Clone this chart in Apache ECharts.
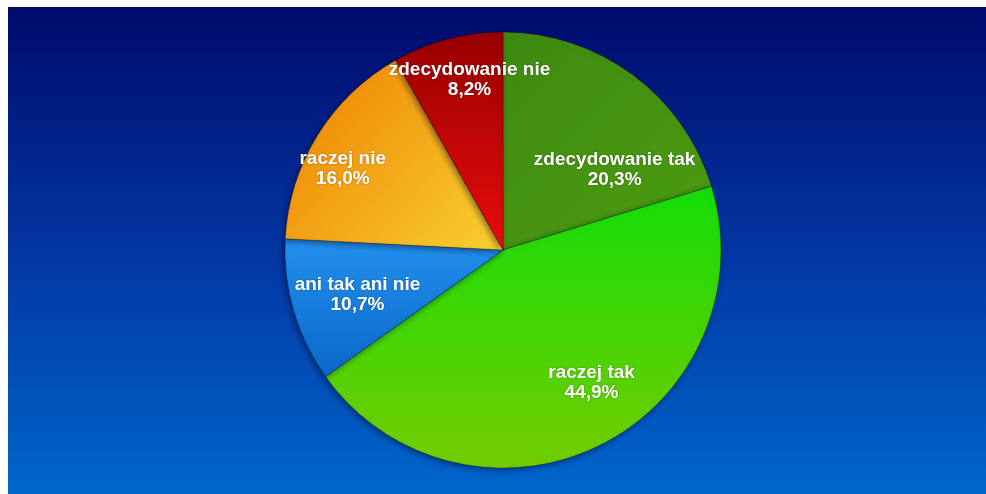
<!DOCTYPE html>
<html>
<head>
<meta charset="utf-8">
<script src="https://cdn.jsdelivr.net/npm/echarts@6/dist/echarts.min.js"></script>
<style>
  html, body { margin: 0; padding: 0; background: #fff; }
  #chart { width: 986px; height: 494px; }
</style>
</head>
<body>
<div id="chart"></div>
<script>
// answers, clockwise from 12 o'clock
const categories = ['zdecydowanie tak', 'raczej tak', 'ani tak ani nie', 'raczej nie', 'zdecydowanie nie'];
const percents = [20.3, 44.9, 10.7, 16.0, 8.2];

// slice fills (top colour, bottom colour, gradient direction)
const sliceColors = [
  ['#3e8a12', '#4d9c10', [0, 0, 1, 1]],
  ['#14de08', '#74cc00', [0, 0, 0, 1]],
  ['#2290ee', '#0a68c8', [0, 0, 0, 1]],
  ['#ee7e00', '#f8d030', [0, 0, 1, 1]],
  ['#960000', '#ec0c0c', [0, 0, 0, 1]]
];
// nudges of the inside labels away from the slice middle
const labelOffsets = [[45, 10], [39, 32], [-38, 13], [-65, -22], [-5, -62]];

const chart = echarts.init(document.getElementById('chart'));

const grad = (c) => new echarts.graphic.LinearGradient(c[2][0], c[2][1], c[2][2], c[2][3], [
  {offset: 0, color: c[0]},
  {offset: 1, color: c[1]}
]);

const option = {
  backgroundColor: '#ffffff',
  animation: false,
  graphic: [{
    type: 'rect',
    left: 8, top: 7,
    shape: {width: 978, height: 487},
    style: {
      fill: new echarts.graphic.LinearGradient(0, 0, 0, 1, [
        {offset: 0, color: '#000a6c'},
        {offset: 0.5, color: '#0336a2'},
        {offset: 1, color: '#0066cc'}
      ])
    },
    z: -10
  }],
  series: [{
    type: 'pie',
    center: [503, 250],
    radius: 218,
    startAngle: 90,
    clockwise: true,
    avoidLabelOverlap: false,
    itemStyle: {
      borderColor: 'rgba(0,0,0,0.25)',
      borderWidth: 1,
      shadowColor: 'rgba(0,0,30,0.45)',
      shadowBlur: 6,
      shadowOffsetX: -2,
      shadowOffsetY: 2
    },
    label: {
      show: true,
      position: 'inside',
      color: '#ffffff',
      fontFamily: 'Liberation Sans, Arial, sans-serif',
      fontWeight: 'bold',
      fontSize: 19,
      lineHeight: 20,
      align: 'center',
      textShadowColor: 'rgba(0,0,0,0.35)',
      textShadowBlur: 2,
      formatter: (p) => p.name + '\n' + p.value.toFixed(1).replace('.', ',') + '%'
    },
    labelLine: {show: false},
    emphasis: {disabled: true},
    data: categories.map((name, i) => ({
      name: name,
      value: percents[i],
      itemStyle: {color: grad(sliceColors[i])},
      label: {offset: labelOffsets[i]}
    }))
  }]
};

chart.setOption(option);
</script>
</body>
</html>
